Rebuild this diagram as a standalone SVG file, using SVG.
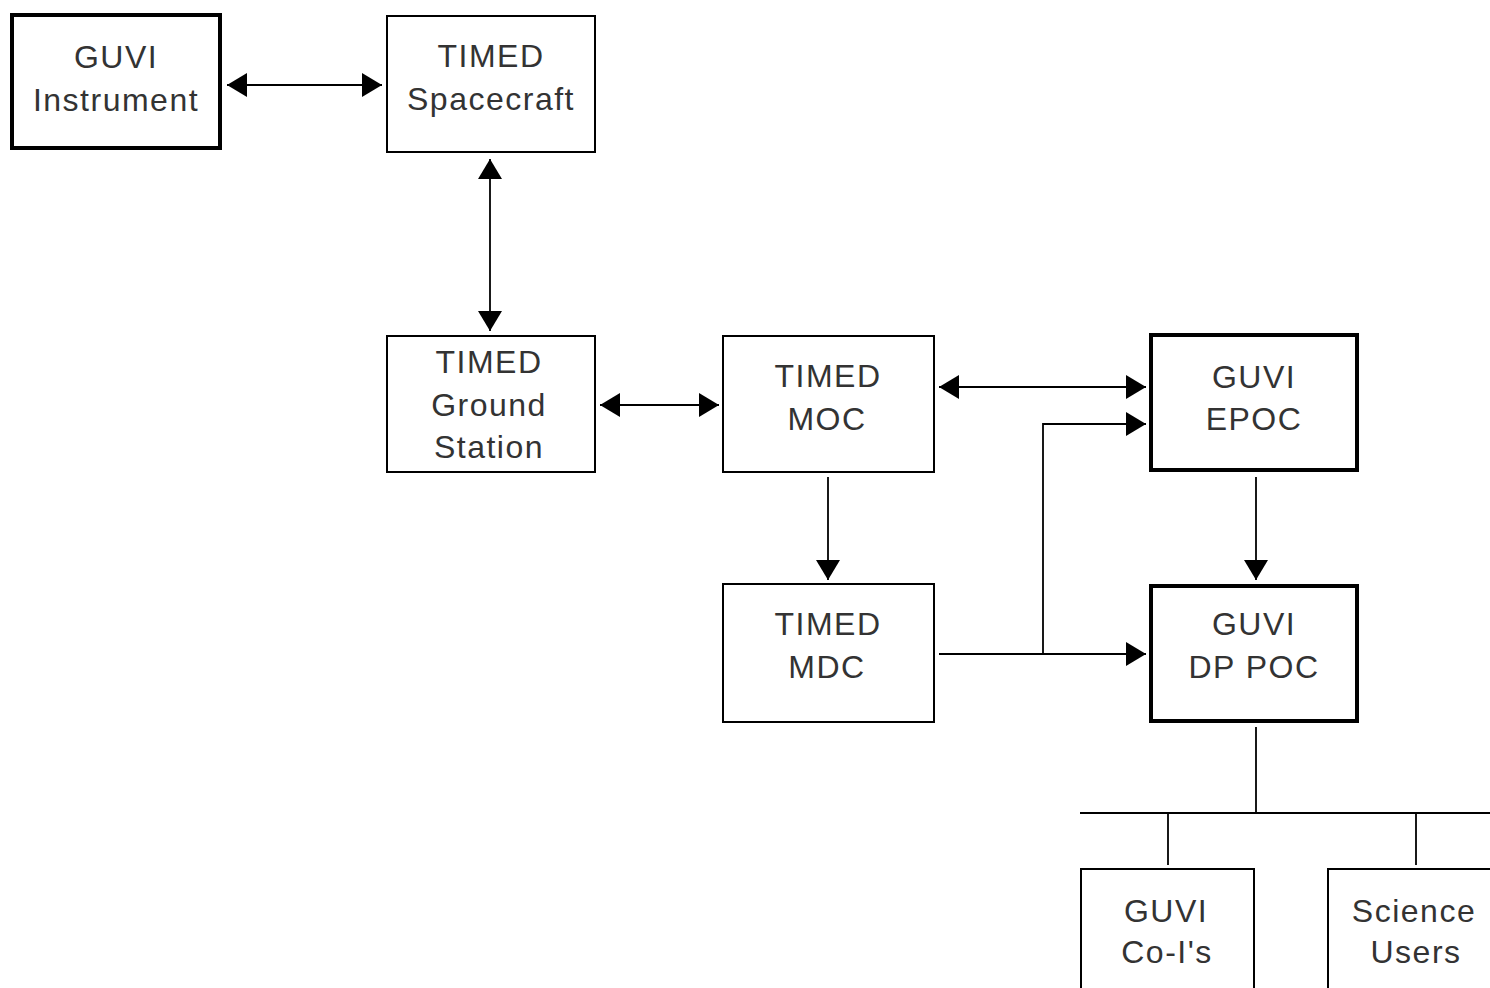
<svg xmlns="http://www.w3.org/2000/svg" width="1490" height="988" viewBox="0 0 1490 988">
<style>
.box{fill:#fff;stroke:#000;stroke-width:2}
.thick{fill:#fff;stroke:#000;stroke-width:4}
.t{font-family:"Liberation Sans",Arial,sans-serif;font-size:32px;fill:#333;text-anchor:middle;letter-spacing:1.5px}
.c{fill:none;stroke:#000;stroke-width:1.8}
</style>
<defs>
<marker id="ah" markerUnits="userSpaceOnUse" markerWidth="22" markerHeight="26" refX="20" refY="12" orient="auto-start-reverse">
<path d="M0,0 L20,12 L0,24 Z" fill="#000"/>
</marker>
</defs>
<rect width="1490" height="988" fill="#fff"/>
<g id="connectors">
<line class="c" x1="227" y1="85" x2="382" y2="85" marker-start="url(#ah)" marker-end="url(#ah)"/>
<line class="c" x1="490" y1="159" x2="490" y2="331" marker-start="url(#ah)" marker-end="url(#ah)"/>
<line class="c" x1="600" y1="405" x2="719" y2="405" marker-start="url(#ah)" marker-end="url(#ah)"/>
<line class="c" x1="939" y1="387" x2="1146" y2="387" marker-start="url(#ah)" marker-end="url(#ah)"/>
<line class="c" x1="828" y1="477" x2="828" y2="580" marker-end="url(#ah)"/>
<line class="c" x1="939" y1="654" x2="1146" y2="654" marker-end="url(#ah)"/>
<polyline class="c" points="1043,655 1043,424 1146,424" marker-end="url(#ah)"/>
<line class="c" x1="1256" y1="477" x2="1256" y2="580" marker-end="url(#ah)"/>
<line class="c" x1="1256" y1="727" x2="1256" y2="813"/>
<line class="c" x1="1080" y1="813" x2="1490" y2="813"/>
<line class="c" x1="1168" y1="813" x2="1168" y2="865"/>
<line class="c" x1="1416" y1="813" x2="1416" y2="865"/>
</g>
<g id="guvi-instrument">
<rect class="thick" x="12" y="15" width="208" height="133"/>
<text class="t" x="116" y="68">GUVI</text>
<text class="t" x="116" y="111">Instrument</text>
</g>
<g id="timed-spacecraft">
<rect class="box" x="387" y="16" width="208" height="136"/>
<text class="t" x="491" y="67">TIMED</text>
<text class="t" x="491" y="110">Spacecraft</text>
</g>
<g id="timed-ground-station">
<rect class="box" x="387" y="336" width="208" height="136"/>
<text class="t" x="489" y="373">TIMED</text>
<text class="t" x="489" y="416">Ground</text>
<text class="t" x="489" y="458">Station</text>
</g>
<g id="timed-moc">
<rect class="box" x="723" y="336" width="211" height="136"/>
<text class="t" x="828" y="387">TIMED</text>
<text class="t" x="827" y="430">MOC</text>
</g>
<g id="guvi-epoc">
<rect class="thick" x="1151" y="335" width="206" height="135"/>
<text class="t" x="1254" y="388">GUVI</text>
<text class="t" x="1254" y="430">EPOC</text>
</g>
<g id="timed-mdc">
<rect class="box" x="723" y="584" width="211" height="138"/>
<text class="t" x="828" y="635">TIMED</text>
<text class="t" x="827" y="678">MDC</text>
</g>
<g id="guvi-dp-poc">
<rect class="thick" x="1151" y="586" width="206" height="135"/>
<text class="t" x="1254" y="635">GUVI</text>
<text class="t" x="1254" y="678">DP POC</text>
</g>
<g id="guvi-coi">
<rect class="box" x="1081" y="869" width="173" height="130"/>
<text class="t" x="1166" y="922">GUVI</text>
<text class="t" x="1167" y="963">Co-I's</text>
</g>
<g id="science-users">
<rect class="box" x="1328" y="869" width="175" height="130"/>
<text class="t" x="1414" y="922">Science</text>
<text class="t" x="1416" y="963">Users</text>
</g>
</svg>
